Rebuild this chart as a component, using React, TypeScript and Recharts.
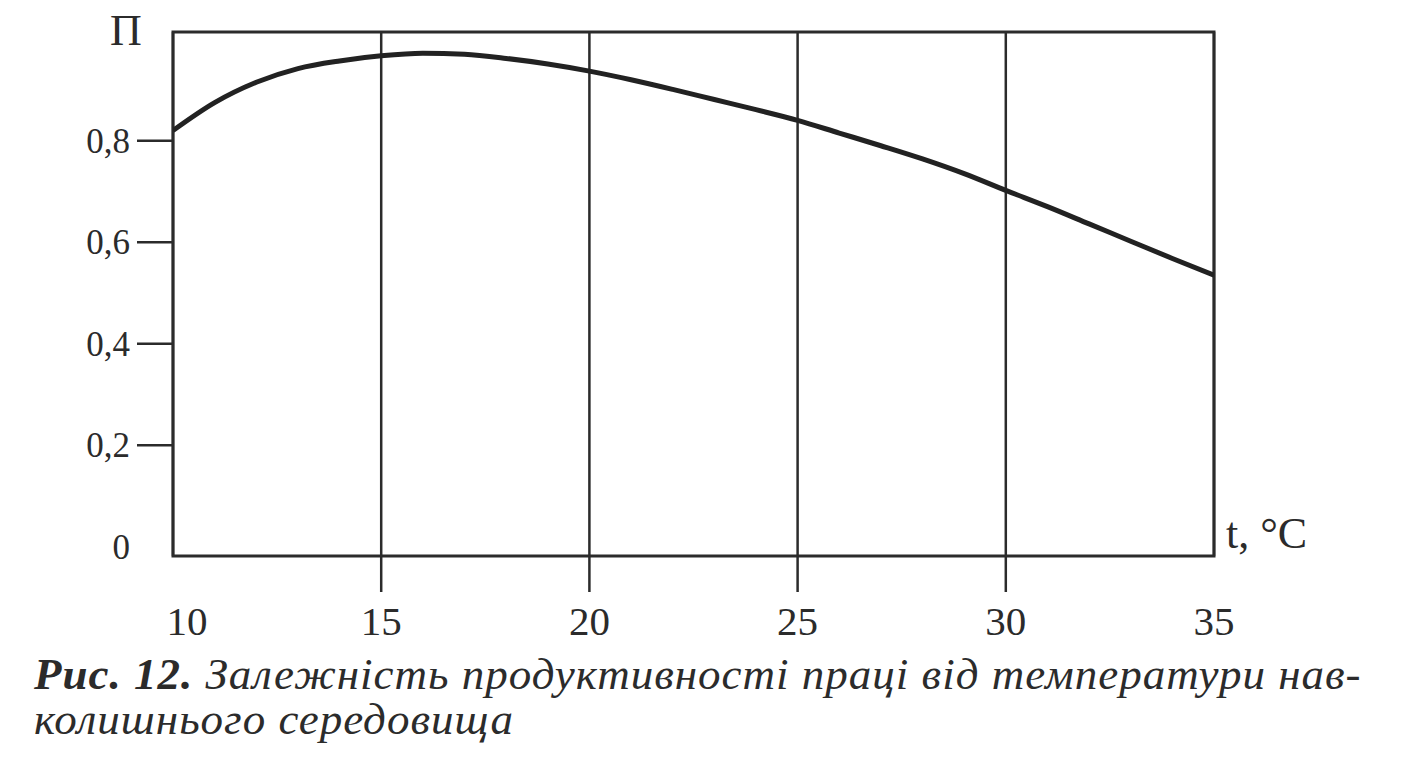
import { LineChart, Line, XAxis, YAxis, CartesianGrid, ReferenceArea } from 'recharts';

// t, °C
const temps = [10, 11, 12, 13, 14, 15, 16, 17, 18, 19, 20, 21, 22, 23, 24, 25, 26, 27, 28, 29, 30, 31, 32, 33, 34, 35];
// П — продуктивність праці
const productivity = [
  0.82, 0.875, 0.915, 0.942, 0.957, 0.967, 0.972, 0.97, 0.962, 0.951,
  0.937, 0.92, 0.901, 0.881, 0.861, 0.84, 0.815, 0.79, 0.764, 0.735,
  0.702, 0.67, 0.636, 0.602, 0.568, 0.535,
];
const xTicks = [10, 15, 20, 25, 30, 35];
const yTicks = [0, 0.2, 0.4, 0.6, 0.8];
const yTickLabels = ['0', '0,2', '0,4', '0,6', '0,8'];

const X_MIN = 10;
const X_MAX = 35;
const Y_MIN = -0.018;
const Y_MAX = 1.014;

const INK = '#2b2b2b';
const FONT = '"Liberation Serif", "Times New Roman", serif';

const chartData = temps.map((t, i) => ({ t, p: productivity[i] }));

const renderXTick = (props: any) => {
  const { x, y, payload } = props;
  const inner = payload.value !== X_MIN && payload.value !== X_MAX;
  // the first label sits a little to the right of the left edge
  const dx = payload.value === X_MIN ? 14 : 0;
  return (
    <g key={`xt-${payload.value}`}>
      {inner && <line x1={x} y1={y} x2={x} y2={y + 36} stroke={INK} strokeWidth={2.5} />}
      <text x={x + dx} y={y + 79} textAnchor="middle" fontFamily={FONT} fontSize={41} fill={INK}>
        {payload.value}
      </text>
    </g>
  );
};

const renderYTick = (props: any) => {
  const { x, y, payload } = props;
  const idx = yTicks.indexOf(payload.value);
  return (
    <g key={`yt-${payload.value}`}>
      {payload.value !== 0 && <line x1={x - 36} y1={y} x2={x} y2={y} stroke={INK} strokeWidth={2.5} />}
      <text x={x - 43} y={y + 12} textAnchor="end" fontFamily={FONT} fontSize={35} fill={INK}>
        {yTickLabels[idx]}
      </text>
    </g>
  );
};

export default function App() {
  return (
    <div style={{ position: 'absolute', left: 0, top: 0, width: 1409, height: 768, background: '#fff', fontFamily: FONT, color: INK }}>
      <LineChart width={1409} height={650} data={chartData} margin={{ top: 32, left: 108, right: 195, bottom: 0 }}>
        <CartesianGrid horizontal={false} stroke={INK} strokeWidth={2.5} />
        <XAxis
          dataKey="t"
          type="number"
          domain={[X_MIN, X_MAX]}
          ticks={xTicks}
          interval={0}
          allowDataOverflow
          height={94}
          tickSize={0}
          tickMargin={0}
          axisLine={false}
          tickLine={false}
          tick={renderXTick}
        />
        <YAxis
          type="number"
          domain={[Y_MIN, Y_MAX]}
          ticks={yTicks}
          interval={0}
          allowDataOverflow
          width={65}
          tickSize={0}
          tickMargin={0}
          axisLine={false}
          tickLine={false}
          tick={renderYTick}
        />
        <ReferenceArea x1={X_MIN} x2={X_MAX} y1={Y_MIN} y2={Y_MAX} fill="none" fillOpacity={0} stroke={INK} strokeWidth={3} />
        <Line type="monotone" dataKey="p" stroke="#222" strokeWidth={5} dot={false} isAnimationActive={false} />
      </LineChart>

      <div style={{ position: 'absolute', left: 110, top: 9, fontSize: 44, lineHeight: '44px' }}>П</div>
      <div style={{ position: 'absolute', left: 1226, top: 512, fontSize: 44, lineHeight: '44px', whiteSpace: 'nowrap' }}>t, °C</div>

      <div style={{ position: 'absolute', left: 34, top: 652, fontSize: 45, lineHeight: '45px', letterSpacing: 1, fontStyle: 'italic', whiteSpace: 'nowrap' }}>
        <div>
          <b>Рис. 12.</b> Залежність продуктивності праці від температури нав-
        </div>
        <div>колишнього середовища</div>
      </div>
    </div>
  );
}
